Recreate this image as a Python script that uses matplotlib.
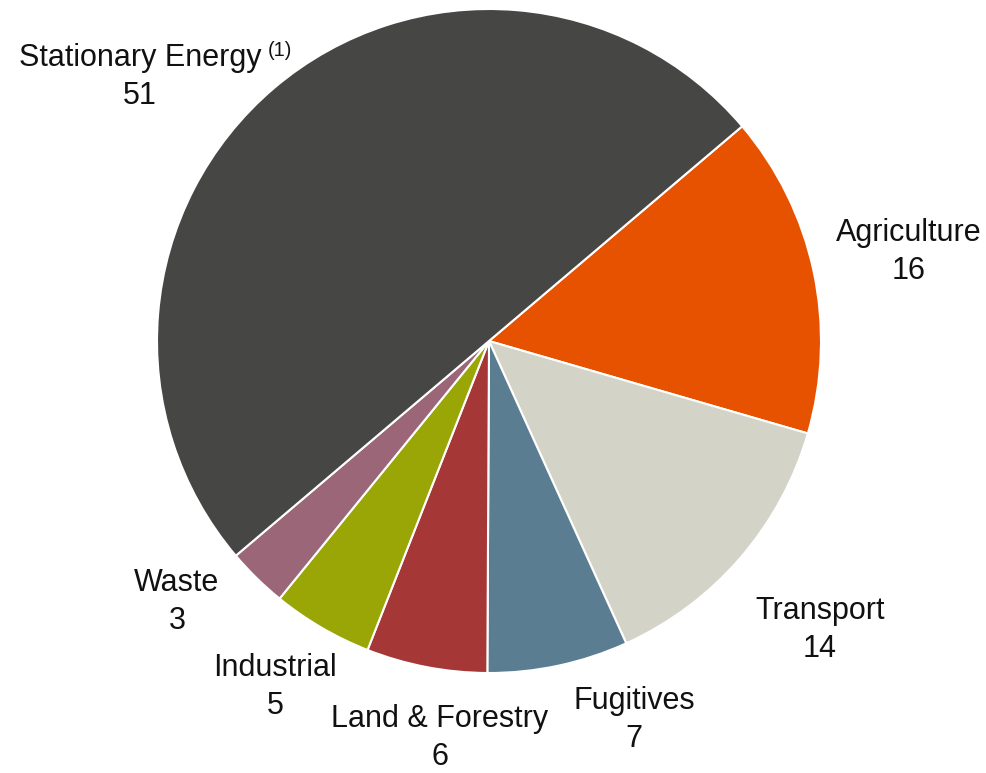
import matplotlib.pyplot as plt

plt.rcParams['font.family'] = ['Liberation Sans', 'DejaVu Sans']

# Emissions by sector, Mt CO2-e
sectors = ['Agriculture', 'Transport', 'Fugitives', 'Land & Forestry',
           'Industrial', 'Waste', 'Stationary Energy']
values = [16, 14, 7, 6, 5, 3, 51]
colors = ['#E65200', '#D3D3C8', '#5A7D92', '#A53737',
          '#99A605', '#9C6679', '#464745']

# label anchor points (in pie radius units)
label_pos = {
    'Agriculture': (1.265, 0.268),
    'Transport': (0.997, -0.87),
    'Fugitives': (0.437, -1.142),
    'Land & Forestry': (-0.148, -1.196),
    'Industrial': (-0.645, -1.042),
    'Waste': (-0.94, -0.786),
    'Stationary Energy': (-1.051, 0.795),
}

W, H = 987, 773
fig = plt.figure(figsize=(W / 100, H / 100), dpi=100)
cx, cy, r = 489, 341, 332
ax = fig.add_axes([(cx - r) / W, (H - cy - r) / H, 2 * r / W, 2 * r / H])

ax.pie(values, colors=colors, startangle=40.3, counterclock=False, radius=1,
       wedgeprops=dict(edgecolor='white', linewidth=1.5))
ax.set_xlim(-1, 1)
ax.set_ylim(-1, 1)
ax.set_aspect('equal')
ax.axis('off')

for name, val in zip(sectors, values):
    x, y = label_pos[name]
    ax.text(x, y, f'{name}\n{val}', ha='center', va='center',
            fontsize=22, linespacing=1.32, color='#111111')

# footnote marker on Stationary Energy
ax.text(-0.665, 0.845, '(1)', ha='left', va='bottom', fontsize=14.5, color='#111111')

fig.savefig('out.png', dpi=100)
